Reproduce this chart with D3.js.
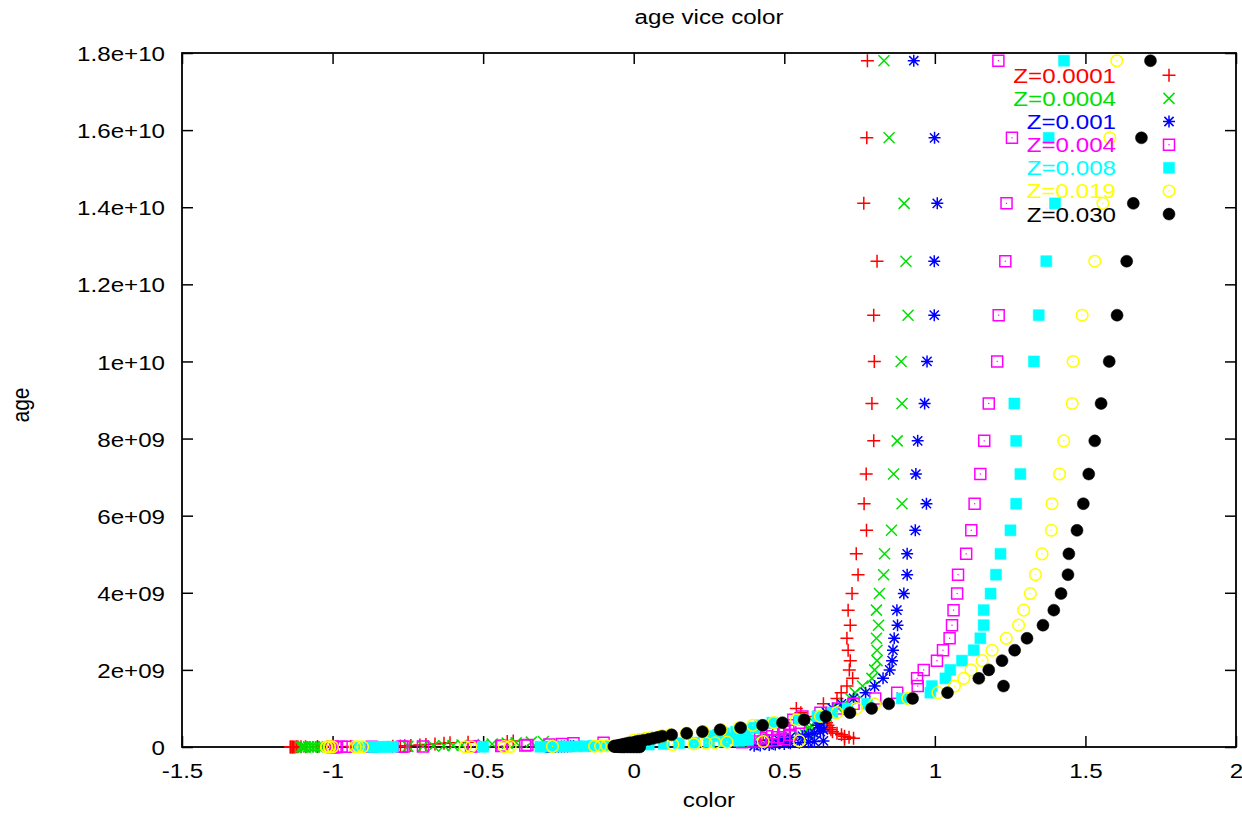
<!DOCTYPE html>
<html>
<head>
<meta charset="utf-8">
<script src="https://cdn.jsdelivr.net/npm/d3@7/dist/d3.min.js"></script>
<style>
  body { margin: 0; background: #fff; }
  text { font-family: "Liberation Sans", Arial, Helvetica, sans-serif; }
</style>
</head>
<body>
<div id="chart"></div>
<script>
// ---- data ----
// age grid shared by every metallicity (years)
const ages = [1.78e10,1.58e10,1.41e10,1.26e10,1.12e10,1.0e10,8.91e9,7.94e9,7.08e9,6.31e9,
  5.62e9,5.01e9,4.47e9,3.98e9,3.55e9,3.16e9,2.82e9,2.51e9,2.24e9,2.0e9,
  1.78e9,1.58e9,1.41e9,1.26e9,1.12e9,1.0e9,8.91e8,7.94e8,7.08e8,6.31e8,
  5.62e8,5.01e8,4.47e8,3.98e8,3.55e8,3.16e8,2.82e8,2.51e8,2.24e8,2.0e8,
  1.78e8,1.58e8,1.41e8,1.26e8,1.12e8,1.0e8,7.94e7,6.31e7,5.01e7,3.98e7,
  3.16e7,2.51e7,2.0e7,1.58e7,1.26e7,1.0e7,7.94e6,6.31e6,5.01e6,3.98e6,
  3.16e6,2.51e6,2.0e6,1.58e6,1.26e6,1.0e6];

// colour per age, one array per metallicity
const colorZ0001 = [0.776,0.774,0.764,0.808,0.797,0.799,0.791,0.797,0.772,0.765,
  0.773,0.739,0.745,0.725,0.712,0.719,0.708,0.712,0.719,0.716,
  0.727,0.708,0.689,0.675,0.63,0.54,0.555,0.60,0.62,0.64,
  0.645,0.65,0.655,0.66,0.675,0.69,0.70,0.715,0.73,0.70,
  0.43,-0.40,-0.42,-0.55,-0.61,-0.63,-0.66,-0.69,-0.71,-0.74,
  -0.76,-0.775,-0.80,-0.94,-1.00,-1.05,-1.09,-1.105,-1.115,-1.12,
  -1.125,-1.13,-1.133,-1.135,-1.14,-1.14];
const colorZ0004 = [0.831,0.848,0.898,0.904,0.911,0.888,0.891,0.875,0.863,0.891,
  0.856,0.833,0.830,0.816,0.806,0.813,0.806,0.808,0.808,0.80,
  0.791,0.76,0.735,0.72,0.70,0.68,0.66,0.64,0.62,0.60,
  0.59,0.585,0.58,0.59,0.58,0.57,0.55,0.52,0.49,0.45,
  0.40,0.36,-0.30,-0.34,-0.39,-0.42,-0.47,-0.50,-0.57,-0.60,
  -0.63,-0.665,-0.70,-0.75,-0.80,-1.00,-1.03,-1.04,-1.05,-1.06,
  -1.07,-1.08,-1.09,-1.095,-1.10,-1.105];
const colorZ001 = [0.93,0.999,1.008,0.998,0.998,0.974,0.966,0.943,0.937,0.972,
  0.935,0.908,0.908,0.897,0.874,0.876,0.865,0.861,0.858,0.85,
  0.828,0.80,0.77,0.73,0.69,0.66,0.64,0.62,0.63,0.62,
  0.61,0.62,0.63,0.62,0.60,0.58,0.56,0.52,0.50,0.48,
  0.45,0.63,0.60,0.58,0.55,0.52,0.50,0.47,0.45,0.42,
  0.40,-0.20,-0.21,-0.22,-0.23,-0.24,-0.25,-0.26,-0.27,-0.28,
  -0.285,-0.29,-0.29,-0.29,-0.29,-0.29];
const colorZ004 = [1.211,1.256,1.238,1.234,1.212,1.207,1.179,1.164,1.151,1.132,
  1.121,1.104,1.077,1.074,1.062,1.057,1.049,1.027,1.007,0.963,
  0.941,0.943,0.875,0.802,0.73,0.68,0.62,0.56,0.53,0.55,
  0.52,0.50,0.48,0.50,0.46,0.52,0.44,0.48,0.42,0.50,
  0.46,0.44,0.40,0.36,-0.10,-0.20,-0.238,-0.28,-0.353,-0.36,
  -0.437,-0.44,-0.532,-0.54,-0.70,-0.764,-0.77,-0.87,-0.95,-0.97,
  -0.985,-0.99,-1.0,-1.0,-1.0,-1.0];
const colorZ008 = [1.429,1.378,1.399,1.370,1.345,1.329,1.264,1.270,1.284,1.27,
  1.251,1.218,1.203,1.185,1.162,1.162,1.151,1.129,1.09,1.051,
  1.035,0.99,0.985,0.89,0.775,0.71,0.66,0.61,0.55,0.46,
  0.42,0.40,0.37,0.34,0.30,0.28,0.26,0.30,0.33,0.36,
  0.38,0.35,0.30,0.25,0.20,0.15,0.10,0.05,0.0,-0.05,
  -0.10,-0.134,-0.16,-0.19,-0.22,-0.25,-0.28,-0.31,-0.50,-0.80,
  -0.82,-0.84,-0.86,-0.868,-0.908,-0.91];
const colorZ019 = [1.604,1.581,1.558,1.531,1.489,1.459,1.456,1.428,1.414,1.389,
  1.387,1.356,1.334,1.317,1.295,1.278,1.237,1.19,1.157,1.12,
  1.096,1.065,1.01,0.91,0.80,0.74,0.675,0.62,0.54,0.465,
  0.395,0.35,0.29,0.23,0.175,0.12,0.09,0.06,0.04,0.02,
  0.0,0.55,0.43,0.31,0.27,0.24,0.20,0.13,-0.02,-0.06,
  -0.09,-0.11,-0.13,-0.27,-0.41,-0.43,-0.54,-0.56,-0.90,-0.915,
  -0.925,-1.0,-1.01,-1.01,-1.02,-1.02];
const colorZ030 = [1.716,1.686,1.659,1.637,1.605,1.579,1.552,1.531,1.511,1.493,
  1.472,1.445,1.442,1.419,1.395,1.359,1.306,1.265,1.223,1.179,
  1.146,1.228,1.042,0.926,0.847,0.79,0.718,0.638,0.566,0.494,
  0.428,0.355,0.287,0.228,0.176,0.126,0.095,0.08,0.065,0.05,
  0.034,0.02,0.01,0.003,-0.01,-0.02,-0.03,-0.038,-0.045,-0.05,
  -0.055,-0.06,-0.065,-0.065,-0.06,-0.055,-0.05,-0.045,-0.04,-0.035,
  -0.03,-0.02,-0.01,0.0,0.01,0.02];

const seriesNames = ["Z=0.0001","Z=0.0004","Z=0.001","Z=0.004","Z=0.008","Z=0.019","Z=0.030"];
const seriesValues = [colorZ0001,colorZ0004,colorZ001,colorZ004,colorZ008,colorZ019,colorZ030];

const xTicks = [-1.5,-1,-0.5,0,0.5,1,1.5,2];
const xTickLabels = ["-1.5","-1","-0.5","0","0.5","1","1.5","2"];
const yTicks = [0,2e9,4e9,6e9,8e9,1e10,1.2e10,1.4e10,1.6e10,1.8e10];
const yTickLabels = ["0","2e+09","4e+09","6e+09","8e+09","1e+10","1.2e+10","1.4e+10","1.6e+10","1.8e+10"];

// ---- styling ----
const seriesColors = ["#ff0000","#00e000","#0000ff","#ff00ff","#00ffff","#ffff00","#000000"];
const seriesSymbols = ["plus","cross","star","boxDot","boxFill","circleDot","circleFill"];
const SX = 1.15;           // text in the reference is stretched horizontally
const FONT = 21;

const margin = {top: 53, right: 6, bottom: 71, left: 182},
    width = 1242 - margin.left - margin.right,
    height = 818 - margin.top - margin.bottom;

const svg = d3.select("#chart").append("svg")
    .attr("width", 1242)
    .attr("height", 818)
    .style("display", "block");

const g = svg.append("g")
    .attr("transform", "translate(" + margin.left + "," + margin.top + ")");

const x = d3.scaleLinear().domain([-1.5, 2]).range([0, width]);
const y = d3.scaleLinear().domain([0, 1.8e10]).range([height, 0]);

function addText(parent, tx, ty, str, anchor, fill, rotate) {
  const t = parent.append("g")
      .attr("transform", "translate(" + tx + "," + ty + ")" + (rotate ? " rotate(-90)" : ""))
    .append("text")
      .attr("text-anchor", anchor)
      .attr("font-size", FONT)
      .attr("fill", fill)
      .attr("transform", rotate ? "scale(1," + SX + ")" : "scale(" + SX + ",1)")
      .text(str);
  return t;
}

// axes (ticks point inward, mirrored on all sides like gnuplot)
const tickLen = 11;
const xb = g.append("g").attr("transform", "translate(0," + height + ")")
    .call(d3.axisBottom(x).tickValues(xTicks).tickFormat((d, i) => xTickLabels[i]).tickSize(-tickLen));
const xt = g.append("g")
    .call(d3.axisTop(x).tickValues(xTicks).tickFormat("").tickSize(-tickLen));
const yl = g.append("g")
    .call(d3.axisLeft(y).tickValues(yTicks).tickFormat((d, i) => yTickLabels[i]).tickSize(-tickLen));
const yr = g.append("g").attr("transform", "translate(" + width + ",0)")
    .call(d3.axisRight(y).tickValues(yTicks).tickFormat("").tickSize(-tickLen));

[xb, xt, yl, yr].forEach(a => {
  a.select(".domain").remove();
  a.selectAll(".tick line").attr("stroke", "#000").attr("stroke-width", 1.5);
});
xb.selectAll(".tick text")
    .attr("font-size", FONT).attr("fill", "#000")
    .attr("y", 31).attr("dy", 0)
    .attr("transform", "scale(" + SX + ",1)");
yl.selectAll(".tick text")
    .attr("font-size", FONT).attr("fill", "#000")
    .attr("x", -17 / SX).attr("dy", "0.36em")
    .attr("transform", "scale(" + SX + ",1)");

// frame
g.append("rect")
    .attr("width", width).attr("height", height)
    .attr("fill", "none").attr("stroke", "#000").attr("stroke-width", 1.8);

// titles
addText(svg, margin.left + width / 2, 24, "age vice color", "middle", "#000");
addText(svg, margin.left + width / 2, 807, "color", "middle", "#000");
addText(svg, 29, 405, "age", "middle", "#000", true);

// marker shapes
function symbolPath(type) {
  switch (type) {
    case "plus": { const s = 6.5; return `M${-s},0H${s}M0,${-s}V${s}`; }
    case "cross": { const s = 5.5; return `M${-s},${-s}L${s},${s}M${-s},${s}L${s},${-s}`; }
    case "star": { const s = 6, c = 4.6; return `M${-s},0H${s}M0,${-s}V${s}M${-c},${-c}L${c},${c}M${-c},${c}L${c},${-c}`; }
    case "boxDot": { const s = 5.5; return `M${-s},${-s}H${s}V${s}H${-s}Z`; }
    case "boxFill": { const s = 5.5; return `M${-s},${-s}H${s}V${s}H${-s}Z`; }
    case "circleDot": { const r = 5.8; return `M${r},0A${r},${r} 0 1,1 ${-r},0A${r},${r} 0 1,1 ${r},0Z`; }
    case "circleFill": { const r = 6; return `M${r},0A${r},${r} 0 1,1 ${-r},0A${r},${r} 0 1,1 ${r},0Z`; }
  }
}
function drawMarker(sel, type, color) {
  const filled = type === "boxFill" || type === "circleFill";
  sel.append("path")
      .attr("d", symbolPath(type))
      .attr("fill", filled ? color : "none")
      .attr("stroke", color)
      .attr("stroke-width", filled ? 0.5 : 1.5);
  if (type === "boxDot" || type === "circleDot") {
    sel.append("rect").attr("x", -0.6).attr("y", -0.6).attr("width", 1.2).attr("height", 1.2)
        .attr("fill", color);
  }
}

// points
const plot = g.append("g");
seriesValues.forEach((vals, si) => {
  const pts = plot.append("g").selectAll("g")
      .data(vals.map((v, i) => ({c: v, age: ages[i]})))
      .join("g")
      .attr("transform", d => "translate(" + x(d.c) + "," + y(d.age) + ")");
  pts.each(function() { drawMarker(d3.select(this), seriesSymbols[si], seriesColors[si]); });
});

// legend
const legX = 1116, keyX = 1169, legY0 = 82.7, legStep = 23.15;
seriesNames.forEach((name, i) => {
  const yy = legY0 + i * legStep;
  addText(svg, legX, yy, name, "end", seriesColors[i]);
  const k = svg.append("g").attr("transform", "translate(" + keyX + "," + (yy - 7.5) + ")");
  drawMarker(k, seriesSymbols[i], seriesColors[i]);
});
</script>
</body>
</html>
